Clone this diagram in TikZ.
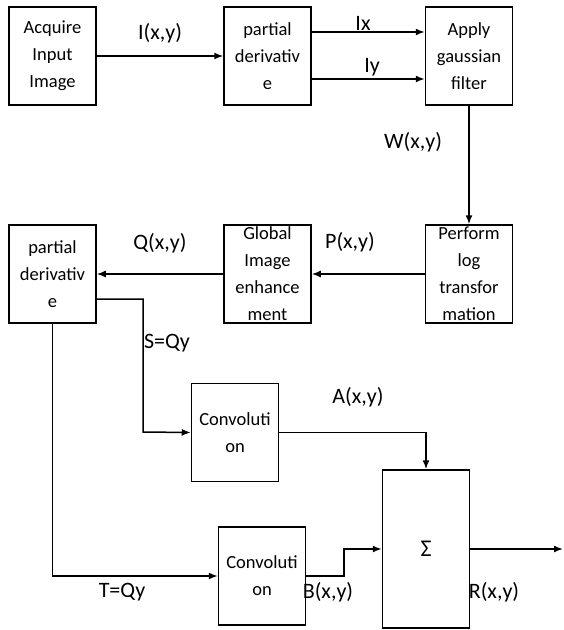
\documentclass[tikz,border=0pt]{standalone}
\usepackage{fontspec}
\setmainfont{Carlito}
\usepackage{tikz}
\usetikzlibrary{arrows.meta}

\begin{document}
\begin{tikzpicture}[x=1pt, y=-1pt, line width=1.5pt,
    blk/.style={draw, minimum width=87pt, minimum height=98pt, inner sep=0pt,
      align=center, font=\fontsize{18.5}{27}\selectfont},
    lbl/.style={font=\fontsize{22}{24}\selectfont},
    flow/.style={-{Latex[length=9pt,width=7pt]}}]
  \useasboundingbox (0,0) rectangle (563,630);
  % top row
  \node[blk] (acq)   at (52.5,56)  {Acquire\\Input\\Image};
  \node[blk] (pd1)   at (267.5,56) {partial\\derivativ\\e};
  \node[blk] (gauss) at (469,56)   {Apply\\gaussian\\filter};
  % middle row
  \node[blk] (logt)  at (469,274)  {Perform\\log\\transfor\\mation};
  \node[blk] (glob)  at (267.5,274) {Global\\Image\\enhance\\ment};
  \node[blk] (pd2)   at (52.5,274) {partial\\derivativ\\e};
  % bottom part
  \node[blk] (conv1) at (235,432.5) {Convoluti\\on};
  \node[blk] (conv2) at (262,576)   {Convoluti\\on};
  \node[blk, minimum height=158pt, font=\fontsize{24}{27}\selectfont] (sum) at (426,549) {Σ};
  \coordinate (sknee) at (143,432);
  \coordinate (bknee) at (344,576);
  \coordinate (out)   at (563,549);
  % connectors
  \draw[flow] (acq.east) -- (pd1.west);
  \draw[flow] ([yshift=24pt]pd1.east) -- ([yshift=24pt]gauss.west);
  \draw[flow] ([yshift=-23pt]pd1.east) -- ([yshift=-23pt]gauss.west);
  \draw[flow] (gauss.south) -- (logt.north);
  \draw[flow] (logt.west) -- (glob.east);
  \draw[flow] (glob.west) -- (pd2.east);
  \draw[flow] ([yshift=-25pt]pd2.east) -| (sknee) -- (conv1.west);
  \draw[flow] (pd2.south) |- (conv2.west);
  \draw[flow] (conv1.east) -| (sum.north);
  \draw[flow] (conv2.east) -- (bknee) |- (sum.west);
  \draw[flow] (sum.east) -- (out);
  % signal labels
  \node[lbl] (lI) at (160,33)  {I(x,y)};
  \node[lbl] (lx) at (363,23)  {Ix};
  \node[lbl] (ly) at (372,67)  {Iy};
  \node[lbl] (lW) at (413,142) {W(x,y)};
  \node[lbl] (lP) at (350,242) {P(x,y)};
  \node[lbl] (lQ) at (160,243) {Q(x,y)};
  \node[lbl] (lS) at (167,343) {S=Qy};
  \node[lbl] (lA) at (358,397) {A(x,y)};
  \node[lbl] (lT) at (122,592) {T=Qy};
  \node[lbl] (lB) at (328,592) {B(x,y)};
  \node[lbl] (lR) at (494,592) {R(x,y)};
\end{tikzpicture}
\end{document}
